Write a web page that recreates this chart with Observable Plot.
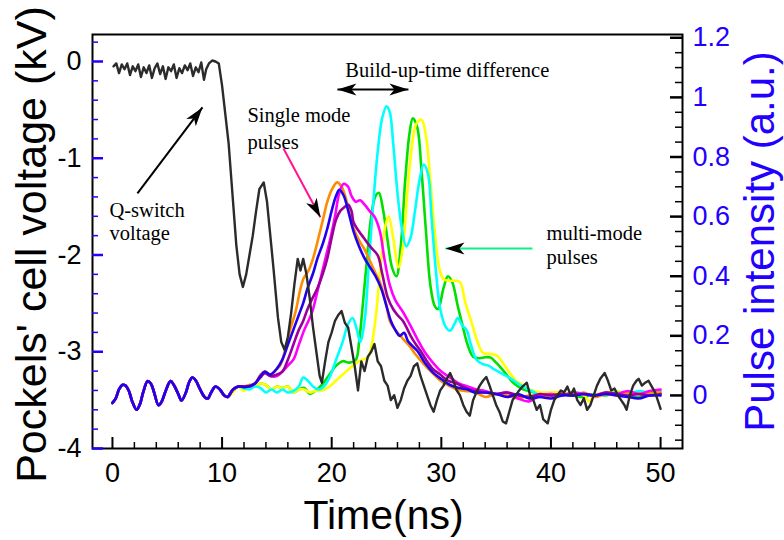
<!DOCTYPE html>
<html><head><meta charset="utf-8">
<script src="https://cdn.jsdelivr.net/npm/d3@7"></script>
<script src="https://cdn.jsdelivr.net/npm/@observablehq/plot@0.6"></script>
<style>body{margin:0;background:#fff} #chart svg{display:block}</style>
</head><body><div id="chart"></div>
<script>
// ---------- data ----------
// Q-switch (Pockels' cell) voltage, kV, left axis
const pockelsT = [0.1,0.35,0.6,0.85,1.1,1.35,1.6,1.85,2.1,2.35,2.6,2.85,3.1,3.35,3.6,3.85,4.1,4.35,4.6,4.85,5.1,5.35,5.6,5.85,6.1,6.35,6.6,6.85,7.1,7.35,7.6,7.85,8.1,8.35,8.55,8.8,9.1,9.4,9.7,
  10.0,10.3,10.6,11.0,11.3,11.6,11.9,12.2,12.5,12.8,13.1,13.4,13.8,14.1,14.4,14.7,15.1,15.4,15.7,16.0,16.3,16.6,16.9,17.15,17.4,17.7,18.0,18.3,18.6,18.9,19.1,19.4,19.7,
  20.0,20.3,20.6,20.9,21.2,21.5,21.8,22.1,22.4,22.7,23.0,23.3,23.6,23.9,24.2,24.5,24.8,25.1,25.4,25.7,26.0,26.3,26.6,26.9,27.2,27.5,27.8,28.1,28.4,28.7,29.0,29.3,29.6,29.9,
  30.2,30.5,30.8,31.1,31.4,31.7,32.0,32.3,32.6,32.9,33.2,33.5,33.8,34.1,34.4,34.7,35.0,35.3,35.6,35.9,36.2,36.5,36.8,37.1,37.4,37.8,38.1,38.4,38.7,39.0,39.3,39.7,
  40.0,40.3,40.6,40.9,41.2,41.5,41.8,42.1,42.4,42.7,43.0,43.3,43.6,43.9,44.2,44.5,44.9,45.2,45.5,45.8,46.1,46.4,46.7,46.9,47.2,47.5,47.8,48.0,48.3,48.6,48.9,49.2,49.5,49.8,50.0];
const pockelsKV = [-0.05,-0.02,-0.12,-0.03,-0.08,-0.02,-0.14,-0.05,-0.1,-0.03,-0.16,-0.06,-0.12,-0.04,-0.17,-0.07,-0.02,-0.13,-0.05,-0.18,-0.06,-0.1,-0.03,-0.17,-0.07,-0.12,-0.04,-0.09,-0.02,-0.15,-0.06,-0.11,-0.01,-0.19,-0.08,-0.02,0.01,0.0,-0.02,
  -0.25,-0.55,-0.85,-1.45,-1.9,-2.2,-2.33,-2.2,-2.0,-1.8,-1.55,-1.32,-1.25,-1.45,-1.8,-2.15,-2.65,-2.9,-2.98,-2.85,-2.6,-2.3,-2.04,-2.16,-2.04,-2.2,-2.45,-2.75,-3.0,-3.25,-3.32,-3.1,-2.9,
  -2.8,-2.68,-2.62,-2.58,-2.7,-2.75,-2.95,-3.15,-3.4,-3.1,-3.2,-3.05,-3.0,-2.92,-3.1,-3.15,-3.3,-3.35,-3.5,-3.45,-3.58,-3.5,-3.38,-3.3,-3.25,-3.15,-3.12,-3.25,-3.35,-3.45,-3.55,-3.62,-3.5,-3.4,
  -3.35,-3.28,-3.22,-3.3,-3.4,-3.45,-3.55,-3.62,-3.66,-3.5,-3.42,-3.35,-3.3,-3.26,-3.35,-3.45,-3.55,-3.62,-3.72,-3.74,-3.62,-3.5,-3.45,-3.4,-3.36,-3.32,-3.45,-3.5,-3.6,-3.55,-3.7,-3.74,
  -3.6,-3.5,-3.45,-3.4,-3.42,-3.36,-3.45,-3.38,-3.5,-3.55,-3.48,-3.6,-3.55,-3.45,-3.35,-3.28,-3.22,-3.3,-3.4,-3.38,-3.45,-3.5,-3.55,-3.6,-3.45,-3.35,-3.3,-3.28,-3.35,-3.32,-3.3,-3.36,-3.42,-3.52,-3.59];

// Common ringing of all pulse traces before build-up (a.u.), right axis
const ringT = [0,0.3,0.6,0.9,1.2,1.5,1.8,2.2,2.5,2.8,3.2,3.5,3.8,4.2,4.5,4.8,5.3,5.6,6.0,6.3,6.7,7.0,7.3,7.6,8.0,8.4,8.7,9.0,9.4,9.8,10.2,10.5];
const ringI = [-0.025,-0.01,0.02,0.035,0.033,0.015,-0.02,-0.048,-0.03,0.01,0.048,0.04,0.01,-0.033,-0.02,0.01,0.048,0.035,0.005,-0.017,0.01,0.045,0.06,0.05,0.02,-0.005,-0.01,0.01,0.03,0.02,0.0,-0.005];

// Single-mode pulses (after 11 ns)
const orangeT = [11.0,11.5,12.0,12.5,13.0,13.5,13.9,14.4,14.9,15.3,15.8,16.2,16.7,17.1,17.4,17.9,18.3,18.8,19.2,19.6,20.0,20.5,20.9,21.3,21.7,22.0,22.5,23.0,23.5,24.0,24.5,25.0,25.3,25.8,26.5,27.0,27.6,28.4,29.2,29.9,30.6,31.4,32.2,33,34,35,36,37,38,39,40,41,42,43,44,45,46,47,48,49,50];
const orangeI = [0.02,0.03,0.03,0.035,0.04,0.07,0.08,0.07,0.085,0.1,0.16,0.22,0.28,0.35,0.39,0.42,0.46,0.53,0.59,0.65,0.69,0.715,0.7,0.66,0.6,0.56,0.52,0.49,0.45,0.41,0.37,0.3,0.25,0.22,0.19,0.17,0.14,0.105,0.075,0.05,0.035,0.02,0.015,0.012,-0.005,0.005,0.0,-0.01,0.0,-0.005,0.0,0.005,0.0,0.01,-0.005,0.005,0.0,0.01,0.005,0.01,0.01];
const magentaT = [11.0,11.5,12.0,12.5,13.0,13.5,13.9,14.4,15.0,15.5,16.0,16.5,17.0,17.5,18.0,18.3,18.7,19.1,19.5,19.9,20.3,20.7,21.1,21.5,21.8,22.2,22.6,23.0,23.5,23.9,24.4,24.8,25.3,25.8,26.5,27.1,27.8,28.5,29.3,30.0,30.8,31.6,32.4,33.2,34,35,36,37,38,39,40,41,42,43,44,45,46,47,48,49,50];
const magentaI = [0.02,0.03,0.03,0.03,0.04,0.065,0.078,0.065,0.065,0.08,0.1,0.12,0.17,0.22,0.26,0.29,0.35,0.41,0.47,0.53,0.6,0.68,0.71,0.7,0.67,0.65,0.655,0.64,0.617,0.6,0.55,0.46,0.37,0.32,0.28,0.24,0.19,0.145,0.107,0.08,0.06,0.04,0.03,0.02,0.015,0.005,0.01,-0.01,-0.02,0.0,0.005,0.0,0.01,0.005,0.0,0.01,0.005,0.015,0.005,0.015,0.02];
const purpleT = [11.0,11.5,12.0,12.5,13.0,13.5,13.9,14.4,15.0,15.5,16.0,16.5,17.0,17.4,17.8,18.3,18.7,19.2,19.6,20.0,20.4,20.8,21.1,21.5,21.8,22.0,22.5,22.9,23.5,24.2,24.6,25.1,25.6,26.0,26.5,26.8,27.2,27.7,28.1,28.6,29.2,29.9,30.6,31.4,32.2,33,34,35,36,37,38,39,40,41,42,43,44,45,46,47,48,49,50];
const purpleI = [0.02,0.03,0.03,0.03,0.04,0.06,0.075,0.065,0.07,0.08,0.12,0.17,0.22,0.25,0.29,0.33,0.36,0.41,0.46,0.53,0.59,0.62,0.63,0.64,0.62,0.58,0.55,0.53,0.5,0.47,0.41,0.33,0.29,0.27,0.25,0.23,0.2,0.17,0.15,0.12,0.09,0.07,0.05,0.04,0.025,0.015,0.01,0.005,0.01,0.0,-0.005,0.005,0.0,0.005,0.0,0.005,0.0,0.01,0.005,0.0,0.005,0.0,0.005];
const blueT = [11.0,11.5,12.0,12.5,13.0,13.5,13.9,14.4,15.0,15.5,16.0,16.5,17.0,17.4,17.8,18.3,18.7,19.2,19.6,20.0,20.4,20.7,21.1,21.5,22.0,22.5,23.0,23.5,24.0,24.5,25.0,25.4,25.8,26.2,26.6,27.0,27.8,28.5,29.3,30.0,30.8,31.6,32.4,33,34,35,36,37,38,39,40,41,42,43,44,45,46,47,48,49,50];
const blueI = [0.02,0.03,0.028,0.032,0.04,0.065,0.08,0.07,0.09,0.12,0.17,0.22,0.27,0.31,0.36,0.41,0.46,0.51,0.56,0.62,0.67,0.69,0.67,0.62,0.55,0.5,0.46,0.43,0.4,0.36,0.3,0.25,0.22,0.2,0.21,0.18,0.15,0.11,0.075,0.055,0.035,0.025,0.02,0.01,0.01,0.005,-0.005,0.005,-0.01,-0.005,-0.01,0.0,0.0,0.005,0.0,0.005,0.0,-0.005,-0.01,0.0,0.0];

// Multi-mode pulses (after 11 ns)
const greenT = [11.0,11.5,12.0,12.5,13.0,13.5,14.0,14.5,15.0,15.5,16.0,16.5,17.0,17.5,18.0,18.5,19.2,19.8,20.4,21.0,21.6,22.2,22.5,22.8,23.2,23.6,24.0,24.3,24.7,25.1,25.5,25.9,26.3,26.7,27.1,27.4,27.8,28.2,28.6,29.0,29.4,29.7,30.2,30.6,31.0,31.5,31.9,32.4,32.9,33.5,34.0,34.5,35.0,35.5,36.0,36.5,37.0,37.5,38,39,40,41,42,43,44,45,46,47,48,49,50];
const greenI = [0.02,0.03,0.02,0.035,0.03,0.04,0.035,0.02,0.03,0.025,0.03,0.01,0.02,0.025,0.005,0.015,0.04,0.07,0.1,0.115,0.11,0.12,0.18,0.29,0.45,0.6,0.67,0.68,0.62,0.52,0.43,0.4,0.5,0.72,0.88,0.93,0.9,0.75,0.55,0.37,0.3,0.29,0.36,0.4,0.38,0.3,0.24,0.17,0.13,0.125,0.128,0.127,0.11,0.09,0.067,0.045,0.03,0.02,0.015,0.005,0.0,0.005,0.0,-0.005,0.005,0.0,0.01,0.0,-0.005,0.005,0.01];
const yellowT = [11.0,11.5,12.0,12.5,13.0,13.5,14.0,14.5,15.0,15.5,16.0,16.5,17.0,17.5,18.0,18.5,19.2,19.8,20.4,21.0,21.7,22.3,22.8,23.3,23.7,24.1,24.5,24.9,25.2,25.6,26.1,26.5,26.9,27.3,27.7,28.2,28.6,29.0,29.4,29.8,30.2,30.7,31.2,31.7,32.2,32.8,33.3,33.8,34.4,35.1,35.6,36.1,36.8,37.5,38,38.5,39,40,41,42,43,43.5,44,45,46,47,48,49,50];
const yellowI = [0.01,0.03,0.015,0.035,0.03,0.04,0.035,0.02,0.03,0.025,0.03,0.01,0.02,0.02,0.01,0.015,0.017,0.03,0.05,0.07,0.093,0.11,0.12,0.127,0.18,0.29,0.45,0.57,0.6,0.53,0.43,0.5,0.68,0.83,0.91,0.925,0.87,0.72,0.55,0.43,0.39,0.385,0.385,0.38,0.31,0.24,0.18,0.143,0.14,0.133,0.11,0.083,0.05,0.033,0.02,0.015,0.01,0.01,0.01,0.005,0.0,-0.02,0.0,0.01,0.015,0.005,0.01,0.005,0.01];
const cyanT = [11.0,11.5,12.0,12.5,13.0,13.5,14.0,14.5,15.0,15.5,16.0,16.5,17.0,17.4,17.8,18.3,18.8,19.2,19.8,20.4,21.0,21.5,21.9,22.3,22.6,23.0,23.4,23.8,24.2,24.6,25.0,25.3,25.6,26.0,26.4,26.8,27.2,27.6,28.0,28.4,28.8,29.1,29.5,29.9,30.4,30.8,31.2,31.5,31.9,32.3,32.7,33.2,33.8,34.3,34.7,35.2,35.7,36.2,36.6,37.2,37.8,38.5,39,40,41,42,43,44,45,46,47,48,49,50];
const cyanI = [0.02,0.03,0.025,0.02,0.03,0.025,0.01,0.02,0.01,0.02,0.01,0.015,0.03,0.06,0.05,0.03,0.02,0.027,0.06,0.12,0.18,0.24,0.26,0.22,0.18,0.25,0.45,0.65,0.82,0.93,0.97,0.95,0.85,0.68,0.56,0.5,0.53,0.62,0.72,0.775,0.74,0.6,0.42,0.29,0.23,0.217,0.24,0.26,0.235,0.22,0.17,0.12,0.105,0.1,0.09,0.08,0.07,0.06,0.05,0.035,0.023,0.01,0.0,0.005,0.0,0.01,0.005,0.0,0.005,0.01,0.005,0.015,0.01,0.015];

// Axis ticks and labels
const xMajorTicks = [0, 10, 20, 30, 40, 50];
const kvMajorTicks = [0, -1, -2, -3, -4];
const intMajorTicks = [0, 0.2, 0.4, 0.6, 0.8, 1, 1.2];

// ---------- layout ----------
const W = 784, H = 540, mL = 92, mR = 102, mT = 34, mB = 92;
const plotW = W - mL - mR, plotH = H - mT - mB;
const xDomain = [-1.82, 52], kvDomain = [-4, 0.279], intDomain = [-0.178, 1.211];
const toKV = i => kvDomain[0] + (i - intDomain[0]) / (intDomain[1] - intDomain[0]) * (kvDomain[1] - kvDomain[0]);
const BLUE = "#2200ff";
const sans = "Liberation Sans, Arial, Helvetica, sans-serif";
const serif = "Liberation Serif, Times New Roman, serif";

const xMinor = d3.range(0, 51, 2).filter(d => d % 10 !== 0);
const kvMinor = d3.range(-3.8, 0.25, 0.2).map(d => +d.toFixed(2)).filter(d => Math.abs(d - Math.round(d)) > 1e-6);
const intMinor = d3.range(-0.15, 1.2, 0.05).map(d => +d.toFixed(2)).filter(d => Math.abs(d * 5 - Math.round(d * 5)) > 1e-6);

const rowsOf = (ts, vs, conv) => ts.map((t, k) => ({t, v: conv ? toKV(vs[k]) : vs[k]}));
const pulses = [
  {t: greenT, i: greenI, color: "#00e000"},
  {t: yellowT, i: yellowI, color: "#ffff00"},
  {t: cyanT, i: cyanI, color: "#00ffff"},
  {t: orangeT, i: orangeI, color: "#ff8c00"},
  {t: magentaT, i: magentaI, color: "#ff00ff"},
  {t: purpleT, i: purpleI, color: "#990099"},
  {t: blueT, i: blueI, color: "#2200ee"}
];

// annotations (time ns, kV)
const labels = [
  {t: 21.24, v: -0.165, text: "Build-up-time difference"},
  {t: 12.31, v: -0.63, text: "Single mode"},
  {t: 12.31, v: -0.9, text: "pulses"},
  {t: -0.27, v: -1.612, text: "Q-switch"},
  {t: -0.27, v: -1.85, text: "voltage"},
  {t: 39.59, v: -1.84, text: "multi-mode"},
  {t: 39.59, v: -2.088, text: "pulses"}
];
const arrows = [
  {t1: 2.28, v1: -1.364, t2: 8.21, v2: -0.475, color: "black", heads: [2]},
  {t1: 15.6, v1: -0.9, t2: 18.97, v2: -1.61, color: "#ff1493", heads: [2]},
  {t1: 38.31, v1: -1.933, t2: 30.38, v2: -1.933, color: "#10ee88", heads: [2]},
  {t1: 20.52, v1: -0.289, t2: 27.0, v2: -0.289, color: "black", heads: [1, 2]}
];
const sx = plotW / (xDomain[1] - xDomain[0]);
const sy = plotH / (kvDomain[1] - kvDomain[0]);
function headSymbol(dxp, dyp) {
  const th = Math.atan2(dxp, -dyp), c = Math.cos(th), s = Math.sin(th);
  const pts = [[0, 0], [-6, 19], [0, 14], [6, 19]].map(([x, y]) => [x * c - y * s, x * s + y * c]);
  return {draw(ctx) { ctx.moveTo(...pts[0]); for (let k = 1; k < pts.length; ++k) ctx.lineTo(...pts[k]); ctx.closePath(); }};
}
const headMarks = [];
for (const a of arrows) {
  const dx = (a.t2 - a.t1) * sx, dy = -(a.v2 - a.v1) * sy;
  for (const h of a.heads) {
    const tip = h === 2 ? {t: a.t2, v: a.v2} : {t: a.t1, v: a.v1};
    const sym = h === 2 ? headSymbol(dx, dy) : headSymbol(-dx, -dy);
    headMarks.push(Plot.dot([tip], {x: "t", y: "v", symbol: sym, r: 5, fill: "black", stroke: "none"}));
  }
}

const plot = Plot.plot({
  width: W, height: H,
  marginLeft: mL, marginRight: mR, marginTop: mT, marginBottom: mB,
  style: {fontFamily: sans, background: "white", overflow: "visible"},
  x: {domain: xDomain, axis: null},
  y: {domain: kvDomain, axis: null},
  marks: [
    // pulse traces
    ...pulses.map(p => Plot.line(rowsOf(ringT.concat(p.t), ringI.concat(p.i), true),
      {x: "t", y: "v", stroke: p.color, strokeWidth: 2.6, curve: "catmull-rom"})),
    // Q-switch voltage
    Plot.line(rowsOf(pockelsT, pockelsKV, false), {x: "t", y: "v", stroke: "#2b2b2b", strokeWidth: 2.4, strokeLinejoin: "round"}),
    // frame
    Plot.frame({stroke: "black", strokeWidth: 2}),
    // x ticks (inward)
    Plot.tickX(xMinor, {x: d => d, insetTop: plotH - 6, stroke: "black", strokeWidth: 1.5}),
    Plot.tickX(xMajorTicks, {x: d => d, insetTop: plotH - 11, stroke: "black", strokeWidth: 2}),
    Plot.text(xMajorTicks, {x: d => d, text: d => String(d), frameAnchor: "bottom", dy: 14, lineAnchor: "top", fontSize: 27, fill: "black"}),
    // left ticks (blue, inward)
    Plot.tickY(kvMinor, {y: d => d, insetRight: plotW - 6, stroke: BLUE, strokeWidth: 1.5}),
    Plot.tickY(kvMajorTicks, {y: d => d, insetRight: plotW - 11, stroke: BLUE, strokeWidth: 2.5}),
    Plot.text(kvMajorTicks, {y: d => d, text: d => String(d), frameAnchor: "left", dx: -11, textAnchor: "end", fontSize: 27, fill: "black"}),
    // right ticks (black, inward), blue labels
    Plot.tickY(intMinor.map(toKV), {y: d => d, insetLeft: plotW - 7, stroke: "black", strokeWidth: 1.5}),
    Plot.tickY(intMajorTicks.map(toKV), {y: d => d, insetLeft: plotW - 12, stroke: "black", strokeWidth: 2.5}),
    Plot.text(intMajorTicks, {y: d => toKV(d), text: d => String(d), frameAnchor: "right", dx: 10, textAnchor: "start", fontSize: 27, fill: BLUE}),
    // axis titles
    Plot.text(["Pockels' cell voltage (kV)"], {text: d => d, frameAnchor: "left", dx: -47, dy: 3, rotate: -90, textAnchor: "middle", lineAnchor: "bottom", fontSize: 43, fill: "black"}),
    Plot.text(["Pulse intensity (a.u.)"], {text: d => d, frameAnchor: "right", dx: 91, rotate: -90, textAnchor: "middle", lineAnchor: "bottom", fontSize: 42, fill: BLUE}),
    Plot.text(["Time(ns)"], {text: d => d, frameAnchor: "bottom", dy: 80, dx: -4, textAnchor: "middle", lineAnchor: "bottom", fontSize: 41, fill: "black"}),
    // annotations
    Plot.text(labels, {x: "t", y: "v", text: "text", textAnchor: "start", lineAnchor: "bottom", fontFamily: serif, fontSize: 20.5, fill: "black"}),
    Plot.link(arrows, {x1: "t1", y1: "v1", x2: "t2", y2: "v2", stroke: "color", strokeWidth: 2}),
    ...headMarks
  ]
});
document.getElementById("chart").appendChild(plot);
</script></body></html>
